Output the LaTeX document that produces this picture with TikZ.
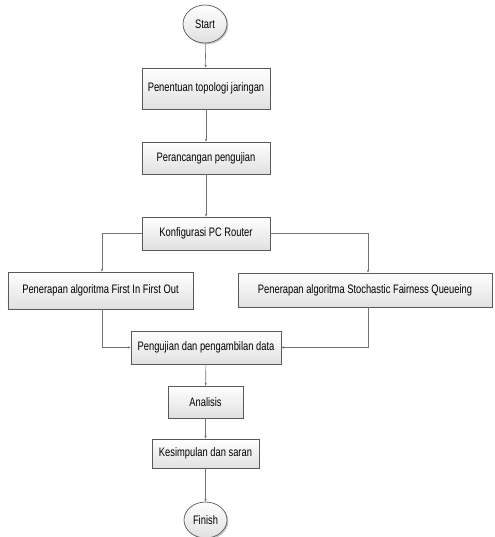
\documentclass[tikz,border=0pt]{standalone}
\usepackage{fontspec}
\setmainfont{Liberation Sans}[FakeStretch=0.76]
\usetikzlibrary{shadows,arrows.meta,shapes.geometric}

\begin{document}
\begin{tikzpicture}[x=0.03cm, y=-0.03cm,
    proses/.style={draw=black!65, line width=0.6pt, top color=white, bottom color=black!12,
        drop shadow={shadow xshift=1.2pt, shadow yshift=-1.2pt, fill=black!35, opacity=0.6},
        inner sep=0pt, font=\fontsize{10.5}{12}\selectfont},
    terminal/.style={proses, ellipse},
    alur/.style={draw=black!55, line width=0.5pt, -{Stealth[length=2.5pt,width=2pt]}}]

    % Frame of the picture
    \useasboundingbox (0,0) rectangle (494,537);

    % Start and finish
    \node[terminal, minimum width=1.32cm, minimum height=1.14cm] (start) at (205,24) {Start};
    \node[terminal, minimum width=1.29cm, minimum height=1.08cm] (finish) at (205.5,520) {Finish};

    % Steps in the middle column
    \node[proses, minimum width=3.84cm, minimum height=1.23cm] (topologi) at (206,88.5) {Penentuan topologi jaringan};
    \node[proses, minimum width=3.84cm, minimum height=0.96cm] (rancang) at (206,158) {Perancangan pengujian};
    \node[proses, minimum width=3.84cm, minimum height=0.99cm] (router) at (206,233.5) {Konfigurasi PC Router};

    % The two algorithms
    \node[proses, minimum width=5.55cm, minimum height=1.11cm] (fifo) at (100.5,290.5) {Penerapan algoritma First In First Out};
    \node[proses, minimum width=7.62cm, minimum height=1.02cm] (sfq) at (365,290) {Penerapan algoritma Stochastic Fairness Queueing};

    % Testing and the end
    \node[proses, minimum width=4.5cm, minimum height=0.99cm] (uji) at (206,347.5) {Pengujian dan pengambilan data};
    \node[proses, minimum width=2.25cm, minimum height=0.96cm] (analisis) at (205.5,402) {Analisis};
    \node[proses, minimum width=3.21cm, minimum height=0.87cm] (simpulan) at (205.5,453.5) {Kesimpulan dan saran};

    % Flow lines
    \draw[alur] (start) -- (topologi);
    \draw[alur] (topologi) -- (rancang);
    \draw[alur] (rancang) -- (router);
    \draw[alur] (router.west) -| (fifo.north -| 102,0);
    \draw[alur] (router.east) -| (sfq.north -| 368,0);
    \draw[alur] (fifo.south -| 102,0) |- (uji.west);
    \draw[alur] (sfq.south -| 368,0) |- (uji.east);
    \draw[alur] (uji) -- (analisis);
    \draw[alur] (analisis) -- (simpulan);
    \draw[alur] (simpulan) -- (finish);
\end{tikzpicture}
\end{document}
